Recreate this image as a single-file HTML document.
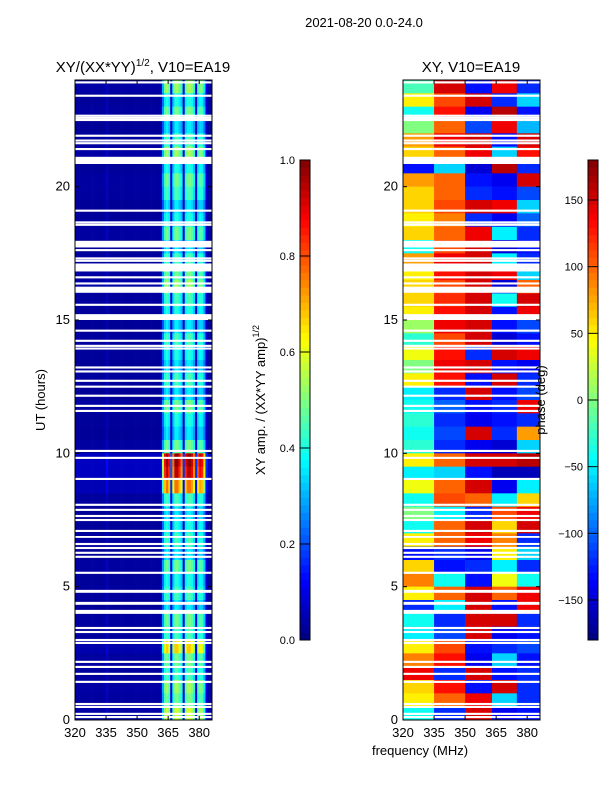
<!DOCTYPE html>
<html><head><meta charset="utf-8"><style>
body{margin:0;background:#fff;width:600px;height:800px;overflow:hidden;font-family:"Liberation Sans",sans-serif}
svg{display:block}
text{font-family:"Liberation Sans",sans-serif;fill:#000}
</style></head><body>
<svg id="fig" width="600" height="800">
<text x="364" y="27" font-size="13" text-anchor="middle">2021-08-20 0.0-24.0</text>
<text x="143" y="72" font-size="15" text-anchor="middle">XY/(XX*YY)<tspan dy="-6" font-size="10">1/2</tspan><tspan dy="6">, V10=EA19</tspan></text>
<text x="471" y="72" font-size="15" text-anchor="middle">XY, V10=EA19</text>
<text transform="translate(45,400) rotate(-90)" font-size="13" text-anchor="middle">UT (hours)</text>
<text x="420" y="755" font-size="13" text-anchor="middle">frequency (MHz)</text>
<text transform="translate(265,400) rotate(-90)" font-size="13" text-anchor="middle">XY amp. / (XX*YY amp)<tspan dy="-6" font-size="9">1/2</tspan></text>
<g id="lp"></g>
<g id="rp"></g>
<g id="cb"></g>
<text transform="translate(545,400) rotate(-90)" font-size="13" text-anchor="middle">phase (deg)</text>
</svg>
<script>
// frequency channels (1 MHz) 320..386 amplitude profile
const ampProfile=[0.03,0.03,0.03,0.03,0.03,0.03,0.03,0.03,0.03,0.03,0.03,0.03,0.03,0.03,0.03,0.06,0.03,0.03,0.03,0.03,0.03,0.03,0.03,0.03,0.03,0.03,0.03,0.03,0.03,0.03,0.03,0.03,0.03,0.03,0.03,0.03,0.03,0.03,0.03,0.03,0.03,0.04,0.25,0.4,0.45,0.4,0.1,0.35,0.45,0.45,0.4,0.35,0.08,0.4,0.45,0.45,0.42,0.35,0.08,0.38,0.42,0.4,0.3,0.08,0.03,0.03];
// per 0.5h row gain, top (23.5-24) to bottom (0-0.5)
const rowGain=[1.2,0.9,1.1,0.8,1.0,1.2,0.9,1.1,1.0,0.8,0.9,1.1,0.8,1.0,1.1,1.2,1.0,0.9,0.8,1.0,0.9,0.8,1.0,0.8,1.1,0.9,0.8,1.1,2.2,2.1,1.7,1.0,0.8,0.9,1.0,0.8,1.1,0.9,1.0,0.8,1.1,1.0,1.5,1.1,1.0,1.2,1.1,1.3];
// phase by frequency zone, rows top (23.5-24) to bottom (0-0.5)
const zoneEdges=[320,335,350,363,375,386];
const phaseA=[-20,50,-40,0,80,60,-130,80,60,60,50,60,-40,80,50,60,60,50,10,-30,40,0,50,-50,-40,-30,-40,-30,50,-50,40,-40,0,-40,50,-130,60,90,50,-120,-40,-50,50,90,140,60,50,-40];
const phaseB=[150,110,130,100,140,100,-60,100,100,110,90,100,110,140,130,110,120,130,140,110,130,140,130,-120,-100,-120,-110,-120,100,-60,100,110,-50,100,100,-120,-130,-40,100,-50,-120,-110,110,130,-120,130,100,-120];
const phaseC=[-130,150,-140,-110,150,140,-150,-130,-120,150,-120,140,150,150,150,150,150,150,150,150,-120,150,-130,150,-130,-140,150,-140,150,-130,150,100,-120,150,140,-140,-120,-130,150,150,150,150,-130,-140,150,-130,140,150];
const phaseD=[140,-120,160,140,-130,-60,160,-140,-130,140,-140,-50,-150,-50,140,-150,-40,-130,-130,-150,150,-130,150,-130,-120,-130,-120,-150,150,-160,-140,-50,110,60,90,50,-50,40,100,-130,150,-140,-120,-60,-130,150,-60,-140];
const phaseE=[-120,-60,-130,-70,150,130,-120,150,-110,-60,-100,-120,-130,-120,-60,100,150,140,-110,-130,140,-140,-120,-110,140,-120,80,-60,160,-160,-50,60,140,150,-120,-60,-120,-40,140,140,-120,-130,-110,-130,-120,-120,-120,-130];
// flagged (blank) intervals: [start UT, end UT]
const flags=[[23.87,23.95],[23.37,23.45],[22.62,22.7],[22.54,22.62],[22.46,22.54],[21.87,21.95],[21.69,21.77],[21.59,21.67],[21.37,21.45],[20.85,21.12],[19.06,19.14],[18.62,18.7],[18.53,18.61],[17.72,17.97],[17.58,17.66],[17.27,17.35],[17.18,17.26],[16.82,17.12],[16.56,16.64],[16.33,16.41],[16.02,16.25],[15.53,15.61],[15.0,15.22],[14.56,14.64],[14.18,14.26],[13.99,14.07],[13.89,13.97],[13.18,13.26],[13.03,13.11],[12.68,12.76],[12.46,12.54],[12.12,12.2],[11.74,11.82],[11.55,11.63],[10.05,10.13],[9.79,9.87],[9.0,9.08],[8.03,8.11],[7.84,7.92],[7.61,7.69],[7.46,7.54],[7.05,7.13],[6.83,6.9],[6.56,6.64],[6.41,6.49],[6.23,6.31],[6.08,6.16],[5.48,5.56],[4.77,4.88],[4.32,4.43],[3.98,4.13],[3.41,3.49],[3.26,3.34],[2.96,3.04],[2.85,2.93],[2.14,2.22],[1.95,2.03],[1.69,1.77],[1.39,1.47],[0.56,0.64],[0.45,0.53],[0.19,0.27],[0.07,0.15]];
const yTicks=[0,5,10,15,20];
const xTicks=[320,335,350,365,380];
const ampTicks=[0.0,0.2,0.4,0.6,0.8,1.0];
const phaseTicks=[-150,-100,-50,0,50,100,150];

const NS='http://www.w3.org/2000/svg';
function mk(t,a,p){const e=document.createElementNS(NS,t);for(const k in a)e.setAttribute(k,a[k]);p.appendChild(e);return e;}
function jet(v){v=Math.max(0,Math.min(1,v));
 const r=Math.max(0,Math.min(1,1.5-Math.abs(4*v-3))),g=Math.max(0,Math.min(1,1.5-Math.abs(4*v-2))),b=Math.max(0,Math.min(1,1.5-Math.abs(4*v-1)));
 return 'rgb('+Math.round(r*255)+','+Math.round(g*255)+','+Math.round(b*255)+')';}
const PY0=80,PY1=720,TMAX=24;
function yS(t){return PY1-(t/TMAX)*(PY1-PY0);}
function makeX(x0){return f=>x0+(f-320)*2.07;}
const panels=[{g:document.getElementById('lp'),x0:75,x1:212},{g:document.getElementById('rp'),x0:403,x1:540}];
const nRows=rowGain.length;
// left amplitude heatmap
(function(){const P=panels[0],xS=makeX(P.x0);
 for(let i=0;i<nRows;i++){const t1=TMAX-i*0.5,t0=t1-0.5;
  for(let j=0;j<ampProfile.length;j++){
   const a=Math.min(1,ampProfile[j]*rowGain[i]);
   const xa=xS(320+j),xb=Math.min(P.x1,xS(321+j));
   const r=mk('rect',{x:xa,y:yS(t1),width:Math.max(0,xb-xa)+0.3,height:yS(t0)-yS(t1)+0.3,fill:jet(a)},P.g);
   
   
 }}})();
// right phase heatmap
(function(){const P=panels[1],xS=makeX(P.x0);const zones=[phaseA,phaseB,phaseC,phaseD,phaseE];
 for(let i=0;i<nRows;i++){const t1=TMAX-i*0.5,t0=t1-0.5;
  for(let z=0;z<zones.length;z++){
   const ph=zones[z][i]===undefined?0:zones[z][i];
   const xa=xS(zoneEdges[z]),xb=Math.min(P.x1,xS(zoneEdges[z+1]));
   const r=mk('rect',{x:xa,y:yS(t1),width:xb-xa+0.3,height:yS(t0)-yS(t1)+0.3,fill:jet((ph+180)/360)},P.g);
   
   
 }}})();
// flags, axes, ticks
panels.forEach((P,pi)=>{const xS=makeX(P.x0);
 flags.forEach(f=>{const r=mk('rect',{x:P.x0,y:yS(f[1]),width:P.x1-P.x0,height:yS(f[0])-yS(f[1]),fill:'#fff'},P.g);
  
  });
 const fr=mk('rect',{x:P.x0,y:PY0,width:P.x1-P.x0,height:PY1-PY0,fill:'none',stroke:'#000','stroke-width':1},P.g);
 
 
 yTicks.forEach(t=>{const y=yS(t);
  mk('line',{x1:P.x0,x2:P.x0+4,y1:y,y2:y,stroke:'#000'},P.g);mk('line',{x1:P.x1,x2:P.x1-4,y1:y,y2:y,stroke:'#000'},P.g);
  const tx=mk('text',{x:P.x0-5,y:y+4,'font-size':13,'text-anchor':'end'},P.g);tx.textContent=t;
  
  });
 xTicks.forEach(f=>{const x=xS(f);
  mk('line',{x1:x,x2:x,y1:PY1,y2:PY1-4,stroke:'#000'},P.g);mk('line',{x1:x,x2:x,y1:PY0,y2:PY0+4,stroke:'#000'},P.g);
  const tx=mk('text',{x:x,y:PY1+17,'font-size':13,'text-anchor':'middle'},P.g);tx.textContent=f;
  
  });
});
// colorbars
(function(){const g=document.getElementById('cb');
 const bars=[{x:300,min:0,max:1,ticks:ampTicks,fmt:v=>v.toFixed(1)},{x:588,min:-180,max:180,ticks:phaseTicks,fmt:v=>v<0?'\u2212'+(-v):''+v}];
 bars.forEach((B,bi)=>{const y0=160,y1=640,n=64;
  for(let k=0;k<n;k++){const r=mk('rect',{x:B.x,y:y1-(k+1)*(y1-y0)/n,width:10,height:(y1-y0)/n+0.4,fill:jet((k+0.5)/n)},g);
   
   }
  mk('rect',{x:B.x,y:y0,width:10,height:y1-y0,fill:'none',stroke:'#000'},g);
  B.ticks.forEach(v=>{const y=y1-(v-B.min)/(B.max-B.min)*(y1-y0);
   mk('line',{x1:B.x,x2:B.x+10,y1:y,y2:y,stroke:'#000'},g);
   const tx=mk('text',{x:B.x-5,y:y+4,'font-size':11,'text-anchor':'end'},g);tx.textContent=B.fmt(v);
   
   });
 });})();
</script>
</body></html>
